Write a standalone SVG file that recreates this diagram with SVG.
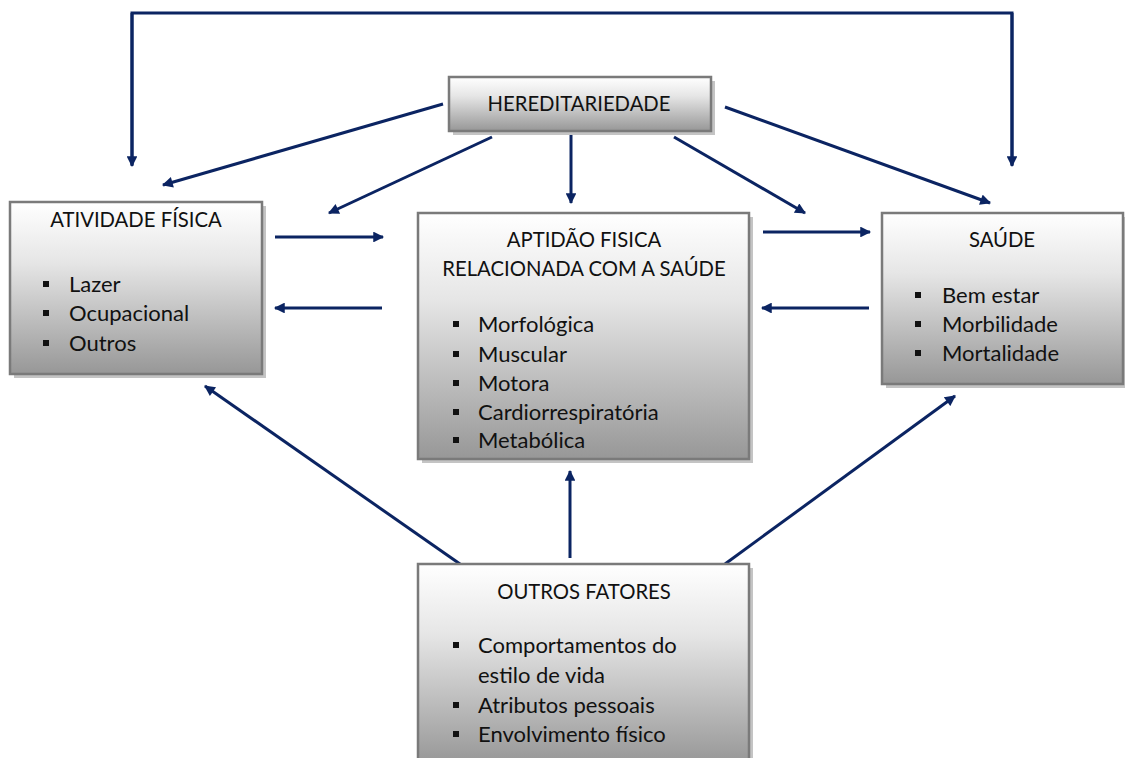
<svg xmlns="http://www.w3.org/2000/svg" width="1125" height="758" viewBox="0 0 1125 758">
<style>
  .box { fill: url(#g); stroke: #7a7a7a; stroke-width: 2.5; }
  .shadow { fill: #c4c4c4; }
  .t { font-family: Lato, "Liberation Sans", sans-serif; font-size: 22px; fill: #111; }
  .h { font-size: 20.3px; }
  .c { text-anchor: middle; }
  .b { fill: #111; }
  .ln { stroke: #0b2462; stroke-width: 3; fill: none; }
  .arr { marker-end: url(#ah); }
</style>
<defs>
  <linearGradient id="g" x1="0" y1="0" x2="0" y2="1">
    <stop offset="0" stop-color="#ffffff"/>
    <stop offset="0.35" stop-color="#e6e6e6"/>
    <stop offset="1" stop-color="#979797"/>
  </linearGradient>
  <marker id="ah" viewBox="0 0 10 10" refX="9" refY="5" markerWidth="4" markerHeight="3.6" orient="auto" markerUnits="strokeWidth">
    <path d="M0,0 L10,5 L0,10 Z" fill="#0b2462"/>
  </marker>
  <clipPath id="clipA"><rect x="418" y="213" width="331" height="237"/></clipPath>
</defs>

<g id="connectors">
  <polyline class="ln" points="132,165 132,13 1012,13 1012,165" />
  <line class="ln arr" x1="132" y1="13" x2="132" y2="166"/>
  <line class="ln arr" x1="1012" y1="13" x2="1012" y2="166"/>
  <line class="ln arr" x1="443" y1="104" x2="163" y2="185"/>
  <line class="ln arr" x1="492" y1="137" x2="329" y2="213"/>
  <line class="ln arr" x1="571" y1="133" x2="571" y2="203"/>
  <line class="ln arr" x1="674" y1="137" x2="805" y2="213"/>
  <line class="ln arr" x1="725" y1="107" x2="990" y2="203"/>
  <line class="ln arr" x1="275" y1="237" x2="383" y2="237"/>
  <line class="ln arr" x1="382" y1="308" x2="275" y2="308"/>
  <line class="ln arr" x1="763" y1="232" x2="870" y2="232"/>
  <line class="ln arr" x1="869" y1="308" x2="762" y2="308"/>
  <line class="ln arr" x1="460" y1="564" x2="205" y2="386"/>
  <line class="ln arr" x1="570" y1="558" x2="570" y2="471"/>
  <line class="ln arr" x1="725" y1="564" x2="955" y2="396"/>
</g>

<g id="hereditariedade">
  <rect class="shadow" x="453" y="81" width="262" height="54"/>
  <rect class="box" x="449" y="77" width="262" height="54"/>
  <text class="t h c" x="579" y="111">HEREDITARIEDADE</text>
</g>

<g id="atividade-fisica">
  <rect class="shadow" x="14" y="206" width="252" height="172"/>
  <rect class="box" x="10" y="202" width="252" height="172"/>
  <text class="t h c" x="136" y="227">ATIVIDADE FÍSICA</text>
  <rect class="b" x="43" y="281" width="6" height="6"/>
  <text class="t" x="69" y="292">Lazer</text>
  <rect class="b" x="43" y="310" width="6" height="6"/>
  <text class="t" x="69" y="321">Ocupacional</text>
  <rect class="b" x="43" y="340" width="6" height="6"/>
  <text class="t" x="69" y="351">Outros</text>
</g>

<g id="aptidao-fisica">
  <rect class="shadow" x="422" y="217" width="331" height="246"/>
  <rect class="box" x="418" y="213" width="331" height="246"/>
  <text class="t h c" x="584" y="247">APTIDÃO FISICA</text>
  <text class="t h c" x="584" y="276">RELACIONADA COM A SAÚDE</text>
  <g clip-path="url(#clipA)">
    <rect class="b" x="453" y="321" width="6" height="6"/>
    <text class="t" x="478" y="332">Morfológica</text>
    <rect class="b" x="453" y="351" width="6" height="6"/>
    <text class="t" x="478" y="362">Muscular</text>
    <rect class="b" x="453" y="380" width="6" height="6"/>
    <text class="t" x="478" y="391">Motora</text>
    <rect class="b" x="453" y="409" width="6" height="6"/>
    <text class="t" x="478" y="420">Cardiorrespiratória</text>
    <rect class="b" x="453" y="437" width="6" height="6"/>
    <text class="t" x="478" y="448">Metabólica</text>
  </g>
</g>

<g id="saude">
  <rect class="shadow" x="886" y="217" width="241" height="171"/>
  <rect class="box" x="882" y="213" width="241" height="171"/>
  <text class="t h c" x="1002" y="247">SAÚDE</text>
  <rect class="b" x="915" y="292" width="6" height="6"/>
  <text class="t" x="942" y="303">Bem estar</text>
  <rect class="b" x="915" y="321" width="6" height="6"/>
  <text class="t" x="942" y="332">Morbilidade</text>
  <rect class="b" x="915" y="350" width="6" height="6"/>
  <text class="t" x="942" y="361">Mortalidade</text>
</g>

<g id="outros-fatores">
  <rect class="shadow" x="422" y="568" width="331" height="200"/>
  <rect class="box" x="418" y="564" width="331" height="200"/>
  <text class="t h c" x="584" y="599">OUTROS FATORES</text>
  <rect class="b" x="453" y="642" width="6" height="6"/>
  <text class="t" x="478" y="653">Comportamentos do</text>
  <text class="t" x="478" y="683">estilo de vida</text>
  <rect class="b" x="453" y="702" width="6" height="6"/>
  <text class="t" x="478" y="713">Atributos pessoais</text>
  <rect class="b" x="453" y="731" width="6" height="6"/>
  <text class="t" x="478" y="742">Envolvimento físico</text>
</g>
</svg>
